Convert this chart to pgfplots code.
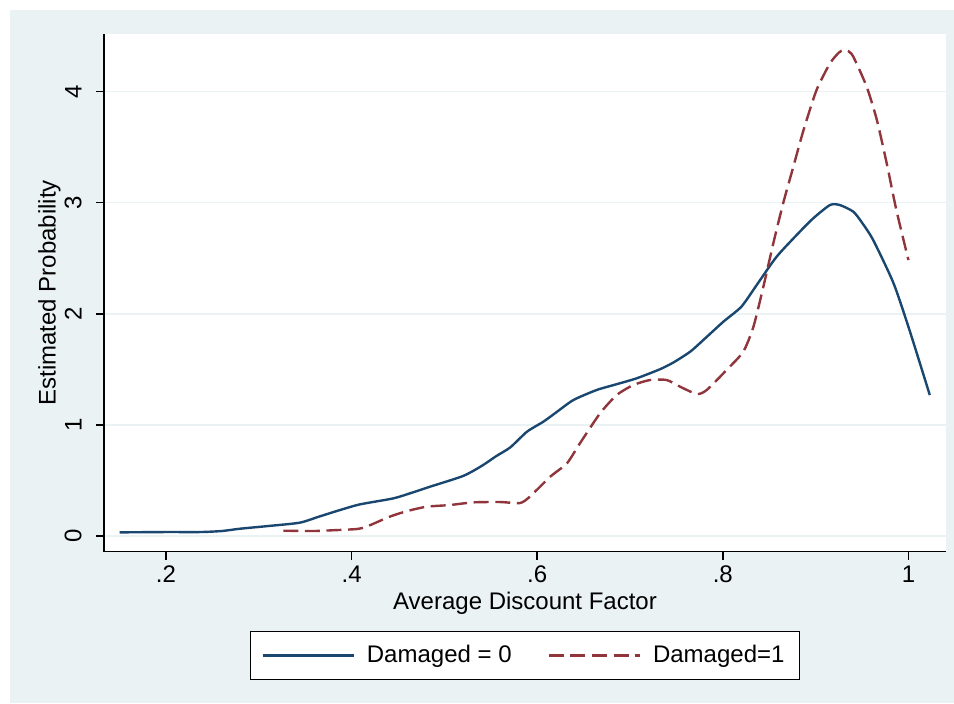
\documentclass[border=0pt]{standalone}
\usepackage{fontspec}
\setmainfont{Liberation Sans}
\usepackage{pgfplots}
\pgfplotsset{compat=1.18}
\definecolor{bgc}{RGB}{234,242,243}
\definecolor{snavy}{RGB}{26,71,111}
\definecolor{smaroon}{RGB}{144,53,59}
\begin{document}
\begin{tikzpicture}[font=\fontsize{12}{14}\selectfont]
\fill[white] (0,0) rectangle (477pt,351.5pt);
\fill[bgc] (5pt,0) rectangle (477pt,346.5pt);
\begin{axis}[
  at={(52pt,75.65pt)}, anchor=south west,
  scale only axis, width=421pt, height=258.85pt,
  xmin=0.1332, xmax=1.0405, ymin=-0.141, ymax=4.518,
  axis background/.style={fill=white},
  axis lines*=left, axis line style={line width=0.75pt, -},
  xtick={0.2,0.4,0.6,0.8,1}, xticklabels={.2,.4,.6,.8,1},
  ytick={0,1,2,3,4}, yticklabels={0,1,2,3,4},
  tick align=outside, major tick length=4pt,
  tick style={line width=0.75pt, black},
  ymajorgrids, grid style={bgc, line width=0.8pt},
  yticklabel style={rotate=90, anchor=south, inner xsep=0pt, inner ysep=7pt},
  xticklabel style={anchor=north, inner xsep=0pt, inner ysep=3pt},
  tick label style={font=\fontsize{12}{14}\selectfont},
  label style={font=\fontsize{12}{14}\selectfont},
  xlabel={Average Discount Factor}, ylabel={Estimated Probability},
  xlabel style={at={(axis description cs:0.5,-0.1126)}, anchor=base, inner sep=0pt},
  ylabel style={at={(axis description cs:-0.051,0.5)}, anchor=south, inner sep=0pt},
  legend columns=2,
  legend style={at={(0.5,-0.1526)}, anchor=north, draw=black, line width=0.6pt, fill=white,
    inner xsep=5.5pt, inner ysep=5pt, font=\fontsize{12}{14}\selectfont,
    /tikz/every odd column/.append style={column sep=4pt},
    /tikz/every even column/.append style={column sep=16pt}},
  legend image code/.code={\draw[#1] (0pt,0pt) -- (45.5pt,0pt);},
]
\addplot[snavy, line width=1.2pt, smooth, tension=0.4] table {
0.150 0.033
0.200 0.036
0.237 0.036
0.260 0.045
0.280 0.066
0.310 0.090
0.344 0.120
0.365 0.175
0.3875 0.234
0.409 0.285
0.445 0.339
0.465 0.390
0.4845 0.444
0.520 0.540
0.540 0.630
0.556 0.720
0.571 0.798
0.589 0.939
0.6066 1.029
0.620 1.110
0.639 1.224
0.664 1.314
0.685 1.365
0.707 1.419
0.732 1.500
0.747 1.563
0.765 1.660
0.779 1.764
0.8006 1.929
0.820 2.064
0.8365 2.259
0.858 2.514
0.883 2.739
0.8975 2.860
0.9155 2.979
0.926 2.979
0.9406 2.919
0.950 2.820
0.962 2.664
0.984 2.274
1.0017 1.839
1.023 1.269
};
\addlegendentry{Damaged = 0}
\addplot[smaroon, line width=1.2pt, dash pattern=on 7.5pt off 3.3pt, smooth, tension=0.4] table {
0.3264 0.048
0.3587 0.045
0.3800 0.052
0.4055 0.063
0.416 0.084
0.441 0.174
0.460 0.225
0.481 0.264
0.506 0.279
0.531 0.303
0.560 0.306
0.5815 0.297
0.592 0.354
0.614 0.534
0.632 0.654
0.646 0.834
0.6677 1.104
0.6857 1.269
0.7036 1.359
0.7216 1.404
0.7395 1.404
0.754 1.344
0.772 1.278
0.7826 1.314
0.804 1.494
0.822 1.659
0.833 1.884
0.8437 2.244
0.8544 2.634
0.865 2.994
0.876 3.324
0.887 3.654
0.901 4.014
0.9155 4.254
0.925 4.350
0.930 4.374
0.935 4.365
0.9406 4.314
0.955 4.044
0.966 3.744
0.9766 3.354
0.987 2.934
1.000 2.484
};
\addlegendentry{Damaged=1}
\end{axis}
\end{tikzpicture}
\end{document}
